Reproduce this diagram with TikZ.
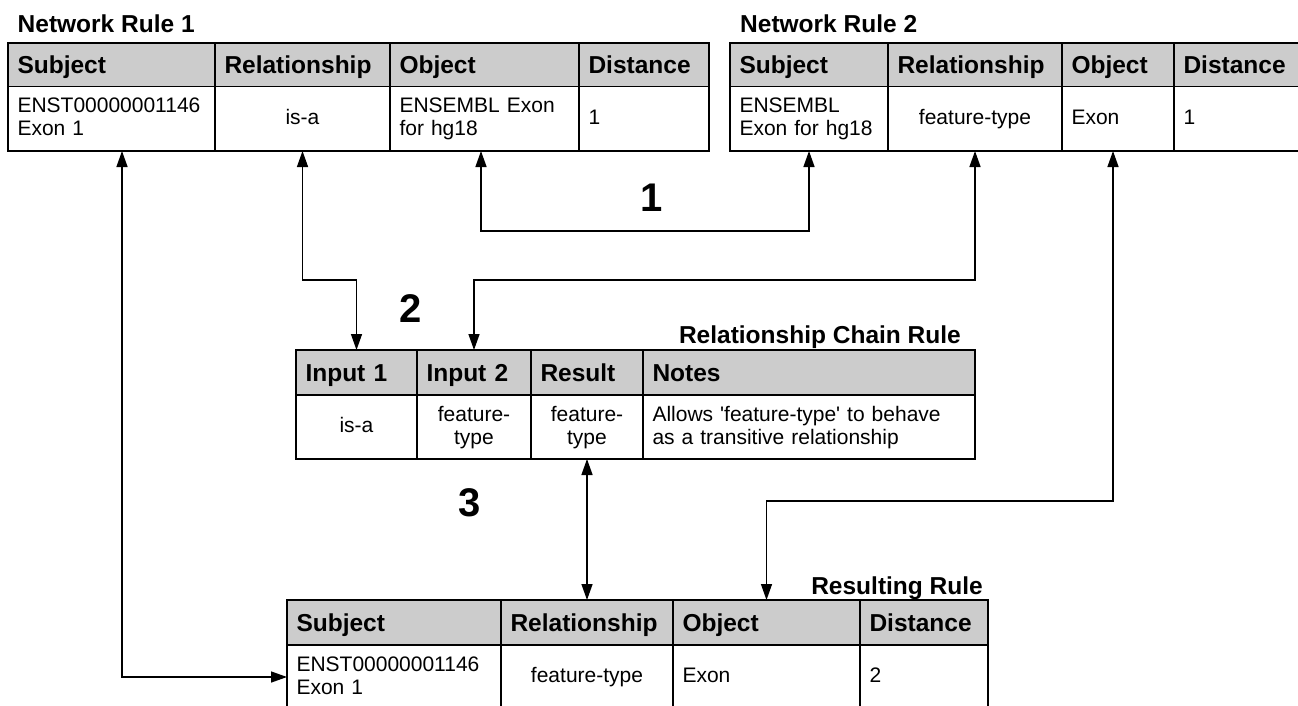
\documentclass[tikz,border=0pt]{standalone}
\usepackage{fontspec}
\setmainfont{Liberation Sans}
\usetikzlibrary{arrows.meta,calc}
\definecolor{hdrgray}{RGB}{204,204,204}
\newcommand\hfont{\fontsize{24.5}{29}\selectfont\bfseries}
\newcommand\dfont{\fontsize{21}{23}\selectfont}
\newcommand\numfont{\fontsize{40}{44}\selectfont\bfseries}
\newcommand\topstrut{\rule{0pt}{15.4pt}}
\newcommand\botstrut{\rule[-4.4pt]{0pt}{4.4pt}}
% name, x, y, width, height, style, text
\newcommand\mkcell[7]{\pgfmathsetmacro\cw{#4-19}\node[#6, text width=\cw pt, minimum height=#5pt] (#1) at (#2,#3) {#7};}
\begin{document}
\begin{tikzpicture}[x=1pt,y=-1pt,
  cellbase/.style={draw=black, line width=1.6pt, anchor=north west, inner xsep=9.5pt, inner ysep=0pt, outer sep=0pt},
  hc/.style={cellbase, fill=hdrgray, font=\hfont, align=left, text height=20pt, text depth=3pt},
  dl/.style={cellbase, fill=white, font=\dfont, align=left, execute at begin node=\topstrut, execute at end node=\botstrut},
  dc/.style={dl, align=center},
  ttl/.style={font=\hfont, inner sep=0pt},
  num/.style={font=\numfont, inner sep=0pt},
  link/.style={line width=1.4pt, {Triangle[length=16pt,width=11pt]}-{Triangle[length=16pt,width=11pt]}}
]
\useasboundingbox (0,0) rectangle (1298,706);

% ---------- Network Rule 1 ----------
\node[ttl, anchor=base west] (title1) at (17.5,33) {Network Rule 1};
\mkcell{t1hs}{8}{43}{207}{43.5}{hc}{Subject}
\mkcell{t1hr}{215}{43}{175}{43.5}{hc}{Relationship}
\mkcell{t1ho}{390}{43}{189}{43.5}{hc}{Object}
\mkcell{t1hd}{579}{43}{130}{43.5}{hc}{Distance}
\mkcell{t1ds}{8}{86.5}{207}{64.5}{dl}{ENST00000001146\\Exon 1}
\mkcell{t1dr}{215}{86.5}{175}{64.5}{dc}{is-a}
\mkcell{t1do}{390}{86.5}{189}{64.5}{dl}{ENSEMBL Exon\\for hg18}
\mkcell{t1dd}{579}{86.5}{130}{64.5}{dl}{1}

% ---------- Network Rule 2 ----------
\node[ttl, anchor=base west] (title2) at (740,33) {Network Rule 2};
\mkcell{t2hs}{730}{43}{158}{43.5}{hc}{Subject}
\mkcell{t2hr}{888}{43}{174}{43.5}{hc}{Relationship}
\mkcell{t2ho}{1062}{43}{112}{43.5}{hc}{Object}
\mkcell{t2hd}{1174}{43}{130}{43.5}{hc}{Distance}
\mkcell{t2ds}{730}{86.5}{158}{64.5}{dl}{ENSEMBL\\Exon for hg18}
\mkcell{t2dr}{888}{86.5}{174}{64.5}{dc}{feature-type}
\mkcell{t2do}{1062}{86.5}{112}{64.5}{dl}{Exon}
\mkcell{t2dd}{1174}{86.5}{130}{64.5}{dl}{1}

% ---------- Relationship Chain Rule ----------
\node[ttl, anchor=base east] (ctitle) at (961,343) {Relationship Chain Rule};
\mkcell{ch1}{296}{350}{121}{45}{hc}{Input 1}
\mkcell{ch2}{417}{350}{114}{45}{hc}{Input 2}
\mkcell{ch3}{531}{350}{112}{45}{hc}{Result}
\mkcell{ch4}{643}{350}{332}{45}{hc}{Notes}
\mkcell{cd1}{296}{395}{121}{64}{dc}{is-a}
\mkcell{cd2}{417}{395}{114}{64}{dc}{feature-\\type}
\mkcell{cd3}{531}{395}{112}{64}{dc}{feature-\\type}
\mkcell{cd4}{643}{395}{332}{64}{dl}{Allows \textquotesingle feature-type\textquotesingle\ to behave\\as a transitive relationship}

% ---------- Resulting Rule ----------
\node[ttl, anchor=base east] (rtitle) at (983,594) {Resulting Rule};
\mkcell{bhs}{287}{600}{214}{45}{hc}{Subject}
\mkcell{bhr}{501}{600}{172}{45}{hc}{Relationship}
\mkcell{bho}{673}{600}{187}{45}{hc}{Object}
\mkcell{bhd}{860}{600}{128}{45}{hc}{Distance}
\mkcell{bds}{287}{645}{214}{64}{dl}{ENST00000001146\\Exon 1}
\mkcell{bdr}{501}{645}{172}{64}{dc}{feature-type}
\mkcell{bdo}{673}{645}{187}{64}{dl}{Exon}
\mkcell{bdd}{860}{645}{128}{64}{dl}{2}

% ---------- step numbers ----------
\node[num] (n1) at (652,198) {1};
\node[num] (n2) at (411,309) {2};
\node[num] (n3) at (470,503) {3};

% ---------- connectors ----------
\coordinate (ya) at (0,231);
\coordinate (yb) at (0,280);
\coordinate (yc) at (0,501);
\coordinate (s1) at ([xshift=10.5pt]t1ds.south);
\coordinate (s3) at ([xshift=-3.5pt]t1do.south);
\coordinate (s6) at ([xshift=-5pt]t2do.south);
\draw[link] (s1) |- (bds.west);
\draw[link] (t1dr.south) |- (ch1.north |- yb) -- (ch1.north);
\draw[link] (s3) |- (t2ds.south |- ya) -- (t2ds.south);
\draw[link] (t2dr.south) |- (ch2.north |- yb) -- (ch2.north);
\draw[link] (s6) |- (bho.north |- yc) -- (bho.north);
\draw[link] (cd3.south) -- (bhr.north);
\end{tikzpicture}
\end{document}
